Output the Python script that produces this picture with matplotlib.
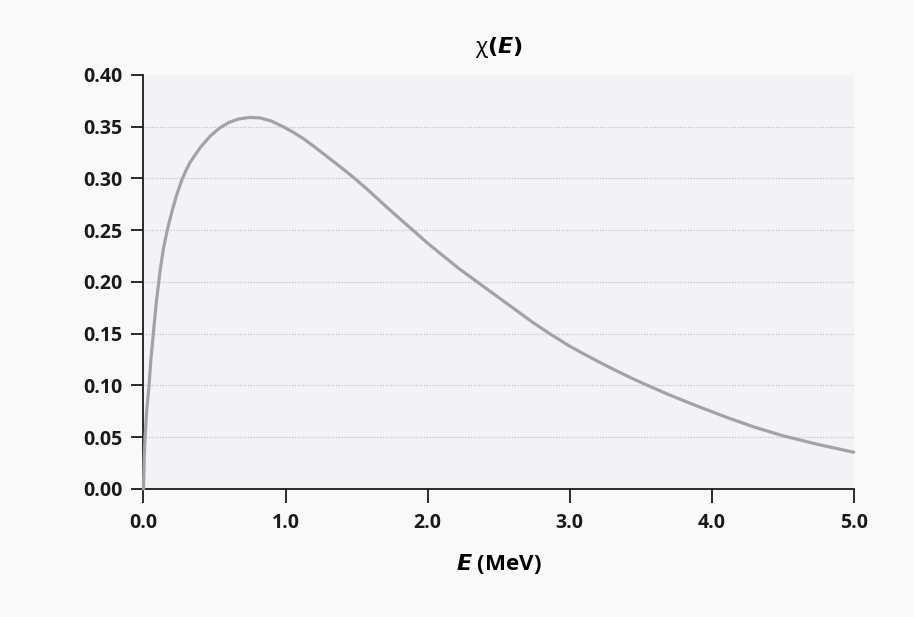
import matplotlib
matplotlib.use("Agg")
import matplotlib.pyplot as plt

# values
energy = [0.0, 0.005, 0.011, 0.022, 0.039, 0.052, 0.069, 0.09, 0.116, 0.14, 0.167,
          0.20, 0.23, 0.268, 0.30, 0.33, 0.40, 0.47, 0.538, 0.60, 0.67, 0.749, 0.82,
          0.90, 0.983, 1.05, 1.12, 1.20, 1.28, 1.35, 1.42, 1.487, 1.58, 1.667, 1.78,
          1.897, 2.00, 2.085, 2.22, 2.35, 2.48, 2.60, 2.73, 2.86, 3.00, 3.10,
          3.21, 3.31, 3.43, 3.55, 3.70, 3.90, 4.10, 4.30, 4.50, 4.75, 5.0]
chi = [0.0, 0.03, 0.05, 0.075, 0.10, 0.125, 0.15, 0.180, 0.210, 0.232, 0.25,
       0.268, 0.2825, 0.298, 0.308, 0.316, 0.330, 0.341, 0.349, 0.354, 0.3575, 0.359, 0.3585,
       0.3555, 0.350, 0.345, 0.339, 0.331, 0.3225, 0.315, 0.3075, 0.300, 0.289, 0.278, 0.264,
       0.250, 0.2375, 0.228, 0.213, 0.200, 0.187, 0.175, 0.162, 0.150, 0.138, 0.1305,
       0.1225, 0.1155, 0.1075, 0.100, 0.091, 0.080, 0.0695, 0.0598, 0.0515, 0.0430, 0.0355]

x_ticks = [0, 1, 2, 3, 4, 5]
x_labels = ['0.0', '1.0', '2.0', '3.0', '4.0', '5.0']
y_ticks = [0.0, 0.05, 0.10, 0.15, 0.20, 0.25, 0.30, 0.35, 0.40]
y_labels = ['0.00', '0.05', '0.10', '0.15', '0.20', '0.25', '0.30', '0.35', '0.40']

plt.rcParams['font.family'] = ['Open Sans', 'DejaVu Sans']
plt.rcParams['mathtext.fontset'] = 'dejavusans'

fig = plt.figure(figsize=(9.14, 6.17), dpi=100, facecolor='#f9f9f9')
ax = fig.add_axes([0.157, 0.2075, 0.777, 0.671])
ax.set_facecolor('#f3f3f5')

ax.plot(energy, chi, color='#a3a3a6', linewidth=2.3, solid_joinstyle='round',
        solid_capstyle='round', zorder=3, clip_on=False)

ax.set_xlim(0, 5)
ax.set_ylim(0, 0.40)
ax.set_xticks(x_ticks)
ax.set_xticklabels(x_labels, fontsize=14, fontweight='bold')
ax.set_yticks(y_ticks)
ax.set_yticklabels(y_labels, fontsize=14, fontweight='bold')

for s in ['top', 'right']:
    ax.spines[s].set_visible(False)
for s in ['left', 'bottom']:
    ax.spines[s].set_linewidth(1.3)
    ax.spines[s].set_color('#1a1a1a')
ax.tick_params(axis='x', direction='out', length=10, width=1.3, pad=7, colors='#1a1a1a')
ax.tick_params(axis='y', direction='out', length=9, width=1.3, pad=6, colors='#1a1a1a')

for y in y_ticks[1:-1]:
    ax.axhline(y, color='#c4c4c8', linewidth=0.9, linestyle=(0, (1, 1.2)), zorder=1)

ax.set_title('χ' + r'$\mathbf{(}\mathbfit{E}\mathbf{)}$', fontsize=16, pad=16)
ax.set_xlabel(r'$\mathbfit{E}$ (MeV)', fontsize=16, fontweight='bold', labelpad=14)

plt.savefig('out.png', dpi=100, facecolor=fig.get_facecolor())
